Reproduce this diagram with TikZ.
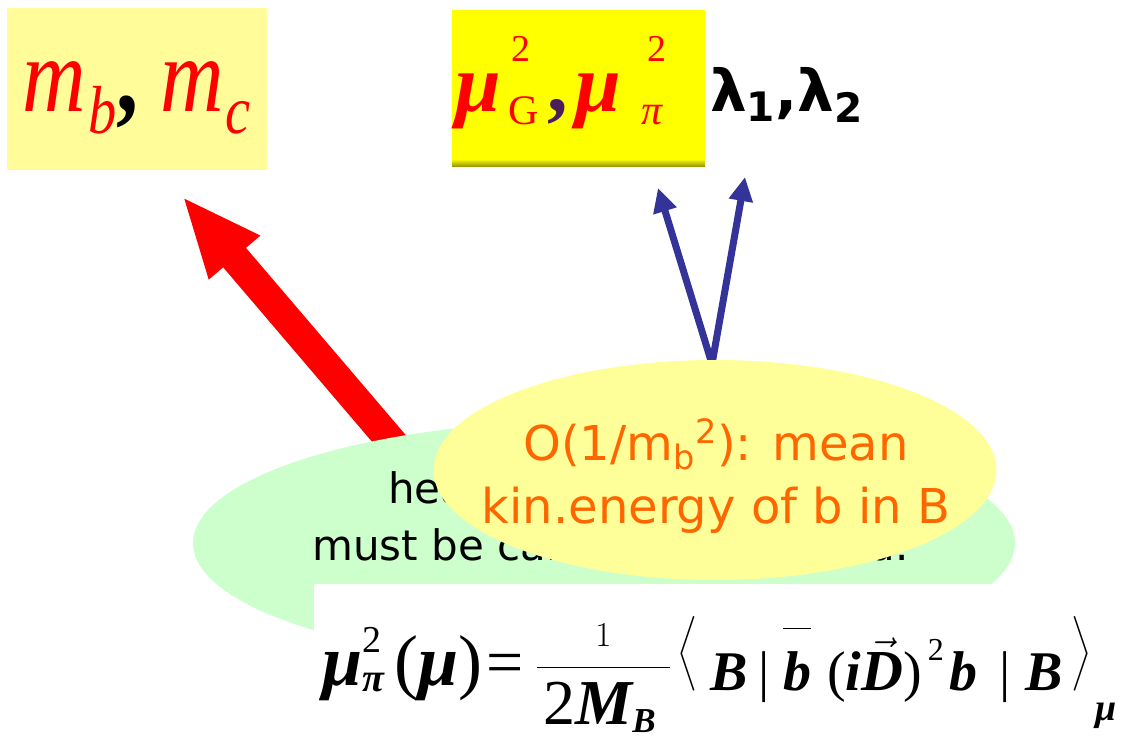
\RequirePackage{fix-cm}
\documentclass[tikz,border=0pt]{standalone}
\usepackage{amsmath}
\usepackage{graphicx}
\usepackage{fontspec}
\setmainfont{Liberation Serif}
\newfontfamily\comicfont{DejaVu Sans}
\usetikzlibrary{arrows.meta, positioning, shapes.geometric}
\DeclareMathSizes{50}{50}{35}{25}

\definecolor{slidered}{HTML}{FF0000}
\definecolor{slideblue}{HTML}{333399}
\definecolor{slideorange}{HTML}{FF6600}
\definecolor{mintgreen}{HTML}{CCFFCC}
\definecolor{paleyellow}{HTML}{FFFF99}
\definecolor{boxyellow}{HTML}{FFFC99}
\definecolor{hotyellow}{HTML}{FFFF00}
\definecolor{commapurple}{HTML}{4B1E5A}

\newcommand{\fs}[1]{\fontsize{#1}{#1}\selectfont}
\newcommand{\bi}[1]{\text{\bfseries\itshape #1}}
\newcommand{\bb}[1]{{\fs{56}\bfseries\itshape #1}}
\newcommand{\supsub}[3]{\rlap{\kern#3\raisebox{50pt}{\fs{38}\mdseries\upshape #1}}\raisebox{-13pt}{\fs{42}\mdseries #2}}
\newcommand{\tallbra}[2]{\raisebox{24pt}{$\left#1\vrule height 72.5pt depth 47.5pt width 0pt\right#2$}}

\begin{document}
\begin{tikzpicture}[x=1pt, y=-1pt,
  slidebox/.style   = {rectangle, anchor=north west, inner sep=0pt, outer sep=0pt},
  bubble/.style     = {ellipse, inner sep=0pt, outer sep=0pt},
  fatarr/.style     = {draw=slidered, line width=30pt, -{Triangle[length=81pt, width=61pt]}},
  thinarr/.style    = {draw=slideblue, line width=7pt, -{Triangle[length=24pt, width=23pt]}},
  blacktext/.style  = {anchor=base west, inner sep=0pt, font=\comicfont\fontsize{42}{57}\selectfont},
  orangetext/.style = {inner sep=0pt, align=center, text=slideorange,
                       font=\comicfont\fontsize{48}{63}\selectfont}
]
\useasboundingbox (0,0) rectangle (1127,746);

%% ── Top boxes ────────────────────────────────────────────────────────────────
\node[slidebox, fill=boxyellow, minimum width=260pt, minimum height=162pt] (massbox) at (7,8) {};
\node[anchor=base west, inner sep=0pt] (masstext) at (22,112)
  {\scalebox{0.83}[1]{\fontsize{106}{106}\selectfont\itshape\color{slidered}%
   m\kern3pt\raisebox{-22pt}{\fontsize{68}{68}\selectfont b}%
   {\color{black}\upshape\bfseries ,}\kern26pt m\kern2pt\raisebox{-22pt}{\fontsize{68}{68}\selectfont c}}};

\node[slidebox, fill=hotyellow, minimum width=253pt, minimum height=157pt] (hqebox) at (452,10) {};
\shade[top color=hotyellow, bottom color=hotyellow!55!black] (452,159) rectangle (705,167);
\node[anchor=base west, inner sep=0pt, font=\fontsize{82}{90}\selectfont] (hqetext) at (455,112)
  {\color{slidered}\bfseries\itshape μ\kern8pt\supsub{2}{\upshape G}{3pt}\kern8pt%
   {\color{commapurple}\bfseries\upshape ,}\kern8pt μ\kern20pt\supsub{2}{π}{6pt}};
\node[anchor=base west, inner sep=0pt, font=\comicfont\bfseries\fontsize{58}{58}\selectfont]
  (lambdatext) at (710,112) {λ\textsubscript{1},λ\textsubscript{2}};

%% ── Arrows ───────────────────────────────────────────────────────────────────
\coordinate (massfoot) at (409,462);
\coordinate (masstip)  at (182,196);
\coordinate (fork)     at (712,364);
\coordinate (tipG)     at (658,188);
\coordinate (tipPi)    at (745,177);

\draw[fatarr]  (massfoot) -- (masstip);
\draw[thinarr] (fork) -- (tipG);
\draw[thinarr] (fork) -- (tipPi);

%% ── Bubbles ──────────────────────────────────────────────────────────────────
\node[bubble, fill=mintgreen, minimum width=822pt, minimum height=246pt] (hqebubble) at (604,543) {};
\node[blacktext] (hqeline1) at (388,503) {heavy quark parameters};
\node[blacktext] (hqeline2) at (312,560) {must be calculated or fitted.};

\node[bubble, fill=paleyellow, minimum width=563pt, minimum height=220pt] (meanbubble) at (715,470) {};
\node[orangetext] (meantext) at (716,476)
  {O(1/m\textsubscript{b}\textsuperscript{2}): mean\\ kin.energy of b in B};

%% ── Formula ──────────────────────────────────────────────────────────────────
\node[slidebox, fill=white, minimum width=813pt, minimum height=162pt] (formulabox) at (314,584) {};
\node[anchor=base west, inner sep=0pt, font=\fs{50}] (formula) at (322,690)
  {\raisebox{5pt}{{\fs{72}\bfseries\itshape μ}%
   \rlap{\raisebox{33pt}{\fs{38}2}}\raisebox{-6pt}{\fs{40}\bfseries\itshape π}%
   \kern10pt{\fs{72}(}{\fs{72}\bfseries\itshape μ}{\fs{72})}}%
   \kern4pt\raisebox{6pt}{\fs{66}=}\kern12pt%
   \raisebox{10pt}{$\dfrac{\scriptstyle 1}{\kern7pt\rule{0pt}{54pt}\text{\fs{64}2\bfseries\itshape M}_{\bi{B}}\kern14pt}$}%
   \kern6pt\tallbra{\langle}{.}\kern12pt%
   \bb{B}\kern10pt{\fs{56}|}\kern14pt%
   $\overline{\text{\fs{56}\bfseries\itshape b}\rule{0pt}{58pt}}$\kern16pt{\fs{56}(}\bb{i}$\vec{\text{\fs{58}\bfseries\itshape D}}${\fs{56})}%
   \kern6pt\raisebox{30pt}{\fs{32}2}\kern6pt\bb{b}\kern22pt{\fs{56}|}\kern14pt\bb{B}%
   \kern8pt\tallbra{.}{\rangle}\kern4pt\raisebox{-30pt}{\fs{38}\bfseries\itshape μ}};

\end{tikzpicture}
\end{document}
